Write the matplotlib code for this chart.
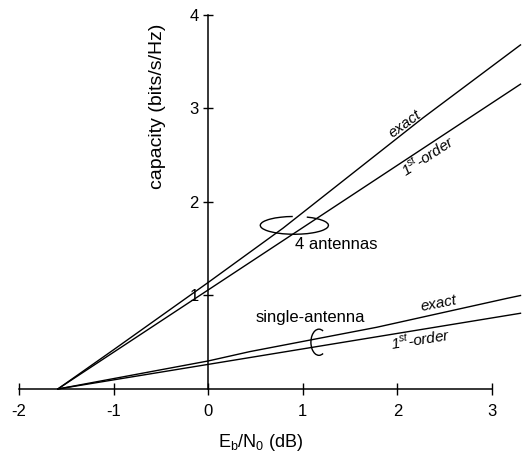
import matplotlib
matplotlib.use("Agg")
import matplotlib.pyplot as plt
from matplotlib.patches import Arc

plt.rcParams['font.family'] = ['Liberation Sans', 'DejaVu Sans']
plt.rcParams['mathtext.fontset'] = 'custom'
plt.rcParams['mathtext.rm'] = 'Liberation Sans'
plt.rcParams['mathtext.it'] = 'Liberation Sans:italic'
plt.rcParams['axes.unicode_minus'] = False

# Eb/N0 (dB) vs capacity (bits/s/Hz)
x_exact4 = [-1.59, -1.0, 0.0, 0.79, 2.27, 3.3]
y_exact4 = [0.0, 0.42, 1.14, 1.72, 2.90, 3.68]
x_first4 = [-1.59, 3.3]
y_first4 = [0.0, 3.26]

x_exact1 = [-1.59, 0.0, 0.44, 1.78, 3.16, 3.3]
y_exact1 = [0.0, 0.30, 0.40, 0.66, 0.97, 1.0]
x_first1 = [-1.59, 3.3]
y_first1 = [0.0, 0.81]

xticks = [-2, -1, 0, 1, 2, 3]
xlabels = ['-2', '-1', '0', '1', '2', '3']
yticks = [1, 2, 3, 4]
ylabels = ['1', '2', '3', '4']

fig = plt.figure(figsize=(5.22, 4.54), dpi=100)
ax = fig.add_axes([19 / 522, 65 / 454, (520.5 - 19) / 522, (389 - 10.3) / 454])
ax.set_xlim(-2, 3.3)
ax.set_ylim(0, 4.05)

for xs, ys in [(x_exact4, y_exact4), (x_first4, y_first4),
               (x_exact1, y_exact1), (x_first1, y_first1)]:
    ax.plot(xs, ys, color='black', lw=1.0, clip_on=False)

ax.spines['top'].set_visible(False)
ax.spines['right'].set_visible(False)
ax.spines['left'].set_position(('data', 0))
ax.spines['bottom'].set_position(('data', 0))
ax.spines['left'].set_bounds(0, 4)
ax.spines['bottom'].set_bounds(-2, 3)
for s in ['left', 'bottom']:
    ax.spines[s].set_linewidth(1.1)

ax.set_xticks(xticks, xlabels)
ax.set_yticks(yticks, ylabels)
ax.tick_params(axis='x', direction='inout', length=9, width=1.0, pad=6, labelsize=12)
ax.tick_params(axis='y', direction='inout', length=7, width=1.0, pad=3.5, labelsize=12)

ax.text(-0.54, 3.02, 'capacity (bits/s/Hz)', rotation=90, ha='center', va='center', fontsize=14)
ax.text(0.55, -0.57, r'$\mathregular{E_b/N_0}$ (dB)', ha='center', va='center', fontsize=13,
        clip_on=False)

# 4 antennas annotations
ax.text(2.08, 2.83, 'exact', rotation=36, rotation_mode='anchor', ha='center', va='center',
        fontsize=11, style='italic')
ax.text(2.32, 2.50, r'1$^{st}$-order', rotation=33, rotation_mode='anchor', ha='center',
        va='center', fontsize=11, style='italic')
ax.text(1.35, 1.55, '4 antennas', ha='center', va='center', fontsize=12)
ax.add_patch(Arc((0.91, 1.75), 0.72, 0.19, theta1=100, theta2=394, color='black', lw=1.0))

# single antenna annotations
ax.text(2.44, 0.91, 'exact', rotation=11, rotation_mode='anchor', ha='center', va='center',
        fontsize=11, style='italic')
ax.text(2.24, 0.53, r'1$^{st}$-order', rotation=9, rotation_mode='anchor', ha='center',
        va='center', fontsize=11, style='italic')
ax.text(1.08, 0.77, 'single-antenna', ha='center', va='center', fontsize=12)
ax.add_patch(Arc((1.17, 0.50), 0.17, 0.28, theta1=70, theta2=290, color='black', lw=1.0))

fig.savefig('out.png', dpi=100)
